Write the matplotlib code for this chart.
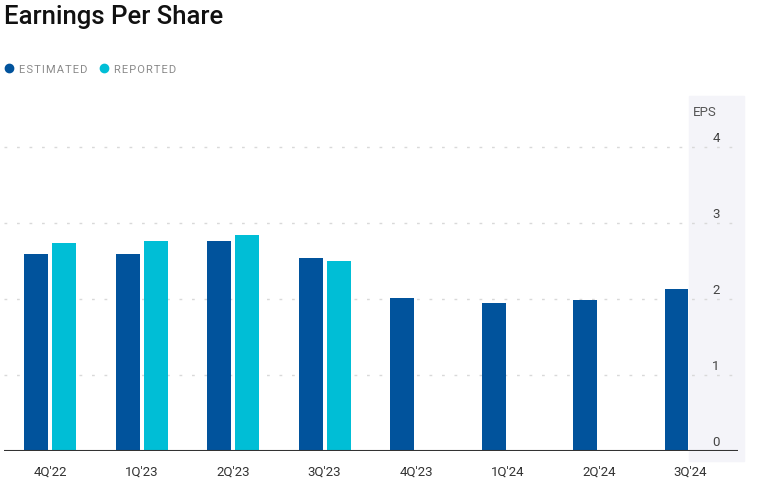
import matplotlib.pyplot as plt
from matplotlib.lines import Line2D
from matplotlib.patches import Rectangle
import numpy as np

plt.rcParams['font.family'] = ['Roboto', 'DejaVu Sans']

quarters = ["4Q'22", "1Q'23", "2Q'23", "3Q'23", "4Q'23", "1Q'24", "2Q'24", "3Q'24"]
estimated = [2.59, 2.59, 2.76, 2.54, 2.01, 1.95, 1.99, 2.13]
reported = [2.74, 2.76, 2.84, 2.50]
yticks = [0, 1, 2, 3, 4]

c_est = '#01539c'
c_rep = '#00bed6'

W, H = 763, 489
fig = plt.figure(figsize=(W / 100, H / 100), dpi=100)

# shaded band behind the y labels
fig.patches.append(Rectangle((689 / W, (H - 462) / H), 55 / W, 365 / H,
                             transform=fig.transFigure, color='#f4f4f9', zorder=-5))

ax = fig.add_axes([4 / W, 37 / H, 734 / W, 349.6 / H])
ax.patch.set_alpha(0)

x = np.arange(len(quarters))
ax.bar(x - 0.153, estimated, width=0.262, color=c_est, zorder=3)
ax.bar(x[:len(reported)] + 0.153, reported, width=0.262, color=c_rep, zorder=3)

ax.set_xlim(-0.503, 7.519)
ax.set_ylim(0, 4.6)

for t in yticks[1:]:
    ax.axhline(t, color='#d9d9d9', lw=1, ls=(0, (2, 7)), zorder=1)
ax.axhline(0, color='#333333', lw=1.5, zorder=4)

ytr = ax.get_yaxis_transform()
for t in yticks:
    ax.text(0.970, t + 0.13, str(t), transform=ytr, ha='center', va='center',
            fontsize=9.5, color='#444444')
ax.text(0.939, 4.47, 'EPS', transform=ytr, ha='left', va='center',
        fontsize=9.5, color='#555555')

ax.set_yticks([])
ax.set_xticks(x)
ax.set_xticklabels(quarters, fontsize=9.5, color='#333333')
ax.tick_params(axis='x', length=0, pad=10)
for s in ax.spines.values():
    s.set_visible(False)

fig.text(4 / W, 1 - 17 / H, 'Earnings Per Share', fontsize=18.5, color='#111111',
         ha='left', va='center', fontweight='medium')

def spaced(s):
    return '\u200a'.join(s)

handles = [Line2D([], [], ls='none', marker='o', ms=6, color=c_est),
           Line2D([], [], ls='none', marker='o', ms=6, color=c_rep)]
fig.legend(handles, [spaced('ESTIMATED'), spaced('REPORTED')],
           loc='center left',
           bbox_to_anchor=(-8 / W, 1 - 70 / H), ncol=2, frameon=False,
           handletextpad=0.3, columnspacing=0.95, handlelength=1.2,
           labelcolor='#8a8a8a', prop={'size': 8})

fig.savefig('out.png', dpi=100)
